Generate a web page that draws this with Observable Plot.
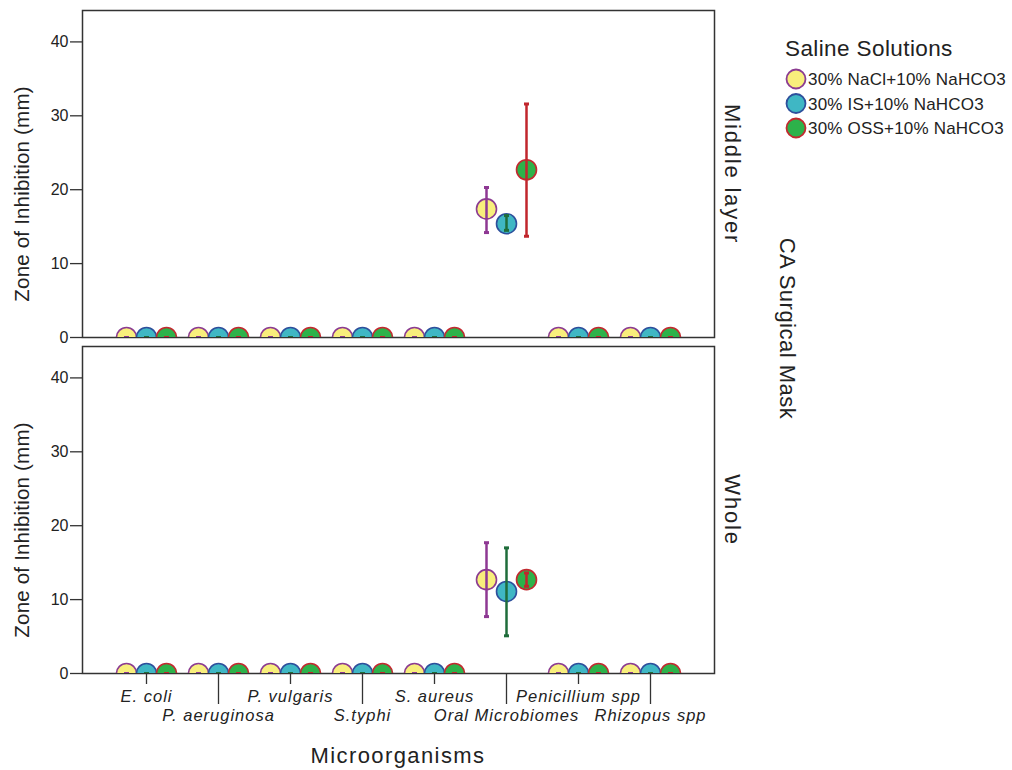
<!DOCTYPE html>
<html>
<head>
<meta charset="utf-8">
<script src="https://cdn.jsdelivr.net/npm/d3@7"></script>
<script src="https://cdn.jsdelivr.net/npm/@observablehq/plot@0.6"></script>
<style>
  html, body { margin: 0; padding: 0; background: #fff; }
  #wrap { position: relative; width: 1012px; height: 770px; font-family: "Liberation Sans", Arial, sans-serif; color: #222; }
  #plot { position: absolute; left: 0; top: 0; }
  #overlay { position: absolute; left: 0; top: 0; pointer-events: none; }
  svg g[aria-label="x-axis tick label"] text { font-style: italic; letter-spacing: 1px; }
</style>
</head>
<body>
<div id="wrap">
  <div id="plot"></div>
  <svg id="overlay" width="1012" height="770"></svg>
</div>
<script>
const categories = ["E. coli", "P. aeruginosa", "P. vulgaris", "S.typhi", "S. aureus", "Oral Microbiomes", "Penicillium spp", "Rhizopus spp"];
const layers = ["Middle layer", "Whole"];
const seriesNames = ["30% NaCl+10% NaHCO3", "30% IS+10% NaHCO3", "30% OSS+10% NaHCO3"];
const yTicks = [0, 10, 20, 30, 40];
const legendTitle = "Saline Solutions";
const outerLabel = "CA Surgical Mask";
const xLabel = "Microorganisms";
const yLabel = "Zone of Inhibition (mm)";

// Middle layer
const midNaClMean = [0, 0, 0, 0, 0, 17.4, 0, 0];
const midNaClLow  = [0, 0, 0, 0, 0, 14.2, 0, 0];
const midNaClHigh = [0, 0, 0, 0, 0, 20.3, 0, 0];
const midISMean   = [0, 0, 0, 0, 0, 15.4, 0, 0];
const midISLow    = [0, 0, 0, 0, 0, 14.5, 0, 0];
const midISHigh   = [0, 0, 0, 0, 0, 16.5, 0, 0];
const midOSSMean  = [0, 0, 0, 0, 0, 22.7, 0, 0];
const midOSSLow   = [0, 0, 0, 0, 0, 13.7, 0, 0];
const midOSSHigh  = [0, 0, 0, 0, 0, 31.6, 0, 0];
// Whole
const wholeNaClMean = [0, 0, 0, 0, 0, 12.7, 0, 0];
const wholeNaClLow  = [0, 0, 0, 0, 0, 7.7, 0, 0];
const wholeNaClHigh = [0, 0, 0, 0, 0, 17.7, 0, 0];
const wholeISMean   = [0, 0, 0, 0, 0, 11.1, 0, 0];
const wholeISLow    = [0, 0, 0, 0, 0, 5.1, 0, 0];
const wholeISHigh   = [0, 0, 0, 0, 0, 17.0, 0, 0];
const wholeOSSMean  = [0, 0, 0, 0, 0, 12.7, 0, 0];
const wholeOSSLow   = [0, 0, 0, 0, 0, 11.8, 0, 0];
const wholeOSSHigh  = [0, 0, 0, 0, 0, 13.6, 0, 0];

const fills   = ["#f8ef7c", "#3fb7c4", "#2db24a"];
const strokes = ["#8c3c91", "#2d4f9c", "#c22a30"];
const barCols = ["#8e3893", "#1f6d3b", "#c1262d"];
const offsets = [-20, 0, 20];

const means = [[midNaClMean, midISMean, midOSSMean], [wholeNaClMean, wholeISMean, wholeOSSMean]];
const lows  = [[midNaClLow, midISLow, midOSSLow], [wholeNaClLow, wholeISLow, wholeOSSLow]];
const highs = [[midNaClHigh, midISHigh, midOSSHigh], [wholeNaClHigh, wholeISHigh, wholeOSSHigh]];

const table = [];
layers.forEach((layer, li) => categories.forEach((cat, ci) => seriesNames.forEach((s, si) => {
  table.push({layer, cat, si, mean: means[li][si][ci], low: lows[li][si][ci], high: highs[li][si][ci]});
})));

const cap = { draw(ctx) { ctx.moveTo(-2.5, 0); ctx.lineTo(2.5, 0); } };

const marks = [Plot.frame({stroke: "#333", strokeWidth: 1.5})];
seriesNames.forEach((s, si) => {
  const data = table.filter(d => d.si === si);
  marks.push(Plot.dot(data, {x: "cat", y: "mean", fy: "layer", r: 10, fill: fills[si], stroke: strokes[si], strokeWidth: 1.6, dx: offsets[si], clip: true}));
});
seriesNames.forEach((s, si) => {
  const data = table.filter(d => d.si === si);
  marks.push(Plot.ruleX(data, {x: "cat", y1: "low", y2: "high", fy: "layer", stroke: barCols[si], strokeWidth: 2.5, dx: offsets[si], clip: true}));
  marks.push(Plot.dot(data, {x: "cat", y: "low", fy: "layer", symbol: cap, stroke: barCols[si], strokeWidth: 3, fill: "none", dx: offsets[si], clip: true}));
  marks.push(Plot.dot(data, {x: "cat", y: "high", fy: "layer", symbol: cap, stroke: barCols[si], strokeWidth: 3, fill: "none", dx: offsets[si], clip: true}));
});
marks.push(Plot.axisY({ticks: yTicks, tickSize: 12, tickPadding: 2, fontSize: 16, label: null, stroke: "#333", strokeWidth: 1.3, fill: "#222"}));
marks.push(Plot.axisX({ticks: categories.filter((d, i) => i % 2 === 0), tickSize: 11, tickPadding: 6, fontSize: 16.5, fontStyle: "italic", label: null, stroke: "#333", strokeWidth: 1.3, fill: "#222"}));
marks.push(Plot.axisX({ticks: categories.filter((d, i) => i % 2 === 1), tickSize: 31, tickPadding: 5, fontSize: 16.5, fontStyle: "italic", label: null, stroke: "#333", strokeWidth: 1.3, fill: "#222"}));
marks.push(Plot.text(layers, {fy: d => d, text: () => yLabel, frameAnchor: "left", textAnchor: "middle", rotate: -90, dx: -60, dy: 20, fontSize: 20.5, fill: "#222"}));
marks.push(Plot.text(layers, {fy: d => d, text: d => d, frameAnchor: "right", textAnchor: "middle", rotate: 90, dx: 18, fontSize: 22, fill: "#222"}));

const chart = Plot.plot({
  width: 812,
  height: 770,
  marginLeft: 82,
  marginRight: 98,
  marginTop: 10,
  marginBottom: 96,
  style: {fontFamily: "Liberation Sans, Arial, sans-serif", background: "#fff"},
  x: {type: "point", domain: categories, padding: 0.86, axis: null},
  y: {domain: [0, 44.25], axis: null},
  fy: {domain: layers, axis: null, paddingInner: 0.0267, paddingOuter: 0},
  marks
});
document.getElementById("plot").appendChild(chart);
d3.select(chart).selectAll("text").filter(function() { return layers.includes(this.textContent); }).style("letter-spacing", "1.8px");
d3.select(chart).selectAll("text").filter(function() { return this.textContent === yLabel; }).style("letter-spacing", "0.2px");

// Overlay: legend, outer facet label, x-axis title
const ov = d3.select("#overlay").style("font-family", "Liberation Sans, Arial, sans-serif");
ov.append("text").attr("x", 785).attr("y", 55.5).attr("font-size", 22.5).attr("letter-spacing", "0.4px").attr("fill", "#222").text(legendTitle);
seriesNames.forEach((s, i) => {
  const cy = 79 + i * 24.5;
  ov.append("circle").attr("cx", 796).attr("cy", cy).attr("r", 9.5).attr("fill", fills[i]).attr("stroke", strokes[i]).attr("stroke-width", 1.8);
  ov.append("text").attr("x", 808).attr("y", cy + 6).attr("font-size", 17).attr("letter-spacing", "0.2px").attr("fill", "#222").text(s);
});
ov.append("text").attr("transform", "translate(780,328.5) rotate(90)").attr("text-anchor", "middle").attr("font-size", 22).attr("letter-spacing", "0.5px").attr("fill", "#222").text(outerLabel);
ov.append("text").attr("x", 398).attr("y", 763.3).attr("text-anchor", "middle").attr("font-size", 22).attr("letter-spacing", "1.4px").attr("fill", "#222").text(xLabel);
</script>
</body>
</html>
